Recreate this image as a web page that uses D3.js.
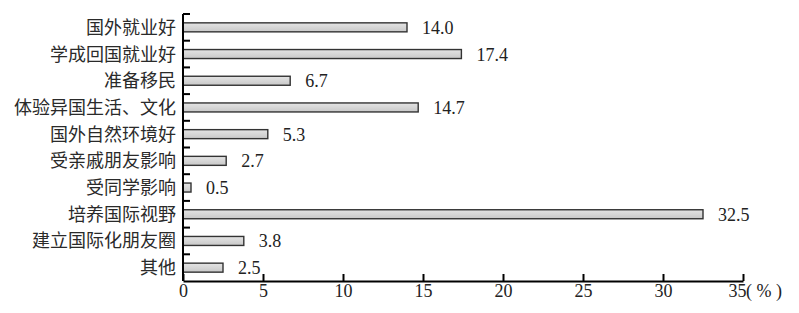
<!DOCTYPE html>
<html>
<head>
<meta charset="utf-8">
<script src="https://cdn.jsdelivr.net/npm/d3@7"></script>
<style>
  body { margin: 0; background: #fff; }
  svg { display: block; }
  .num { font-family: "Liberation Serif", "Times New Roman", "DejaVu Serif", serif; font-size: 18px; fill: #222; }
  .cat { font-family: "Noto Sans CJK SC", sans-serif; font-size: 18px; fill: #2a2a2a; }
</style>
</head>
<body>
<svg width="799" height="313"></svg>
<script>
// categories, top to bottom
const categories = ["国外就业好", "学成回国就业好", "准备移民", "体验异国生活、文化", "国外自然环境好",
    "受亲戚朋友影响", "受同学影响", "培养国际视野", "建立国际化朋友圈", "其他"];
const values = [14.0, 17.4, 6.7, 14.7, 5.3, 2.7, 0.5, 32.5, 3.8, 2.5];
const xTicks = [0, 5, 10, 15, 20, 25, 30, 35];

const svg = d3.select("svg"),
    margin = { top: 14, right: 56, bottom: 32, left: 183 },
    width = +svg.attr("width") - margin.left - margin.right,
    height = +svg.attr("height") - margin.top - margin.bottom;

const g = svg.append("g").attr("transform", `translate(${margin.left},${margin.top})`);

const x = d3.scaleLinear().domain([0, 35]).range([0, 560]);
const y = d3.scaleBand().domain(categories).range([0, 267]);

// bar fill gradient
const grad = svg.append("defs").append("linearGradient")
    .attr("id", "barFill").attr("x1", 0).attr("y1", 0).attr("x2", 0).attr("y2", 1);
grad.append("stop").attr("offset", "0%").attr("stop-color", "#e4e4e4");
grad.append("stop").attr("offset", "100%").attr("stop-color", "#c8c8c8");

// bars
g.selectAll(".bar")
    .data(values)
    .enter().append("rect")
    .attr("class", "bar")
    .attr("x", 0)
    .attr("y", (d, i) => y(categories[i]) + y.bandwidth() / 2 - 4.5)
    .attr("width", d => x(d))
    .attr("height", 9)
    .attr("fill", "url(#barFill)")
    .attr("stroke", "#333")
    .attr("stroke-width", 1.4);

// value labels
g.selectAll(".val")
    .data(values)
    .enter().append("text")
    .attr("class", "num")
    .attr("x", d => x(d) + 15)
    .attr("y", (d, i) => y(categories[i]) + y.bandwidth() / 2)
    .attr("dy", "0.36em")
    .text(d => d.toFixed(1));

// y axis: ticks at band edges, pointing inward
const yAxis = g.append("g");
yAxis.append("line")
    .attr("x1", 0).attr("x2", 0).attr("y1", 0).attr("y2", 267)
    .attr("stroke", "#000").attr("stroke-width", 2);
yAxis.selectAll(".ytick")
    .data(categories)
    .enter().append("line")
    .attr("x1", 0).attr("x2", 7)
    .attr("y1", d => y(d)).attr("y2", d => y(d))
    .attr("stroke", "#000").attr("stroke-width", 2);
yAxis.selectAll(".ylab")
    .data(categories)
    .enter().append("text")
    .attr("class", "cat")
    .attr("x", -7)
    .attr("y", d => y(d) + y.bandwidth() / 2)
    .attr("dy", "0.36em")
    .attr("text-anchor", "end")
    .text(d => d);

// x axis
const xAxis = g.append("g")
    .attr("transform", `translate(0,267)`)
    .call(d3.axisBottom(x).tickValues(xTicks).tickSize(-7).tickPadding(3).tickSizeOuter(0));
xAxis.attr("font-family", null).attr("font-size", null);
xAxis.select(".domain").attr("stroke", "#000").attr("stroke-width", 2);
xAxis.selectAll(".tick line").attr("stroke", "#000").attr("stroke-width", 2);
xAxis.selectAll(".tick text").attr("class", "num").attr("fill", null);
// last label sits just left of the unit
xAxis.selectAll(".tick text").filter(d => d === 35)
    .attr("text-anchor", "end").attr("x", 3);

g.append("text")
    .attr("class", "num")
    .attr("x", x(35) + 3)
    .attr("y", 267 + 3)
    .attr("dy", "0.71em")
    .text("( % )");
</script>
</body>
</html>
